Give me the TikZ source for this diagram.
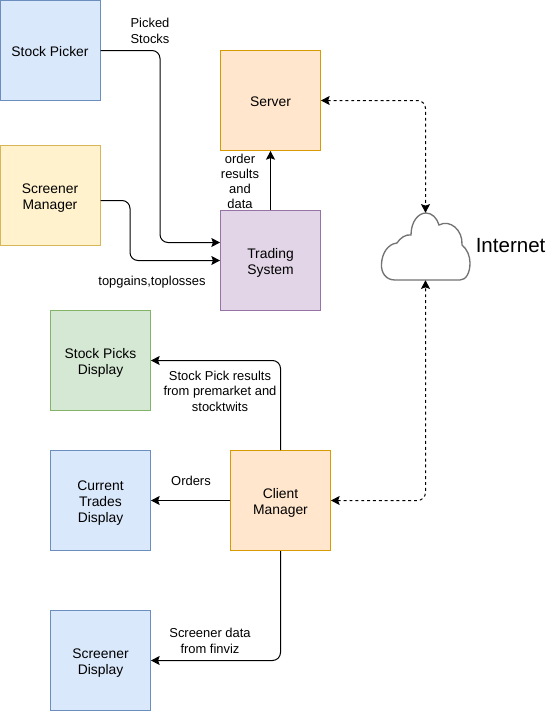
\documentclass[tikz,border=0pt]{standalone}
\usepackage{fontspec}
\setmainfont{Liberation Sans}
\usetikzlibrary{arrows.meta,positioning}
\definecolor{bluef}{HTML}{DAE8FC}\definecolor{blued}{HTML}{6C8EBF}
\definecolor{yelf}{HTML}{FFF2CC}\definecolor{yeld}{HTML}{D6B656}
\definecolor{orf}{HTML}{FFE6CC}\definecolor{ord}{HTML}{D79B00}
\definecolor{purf}{HTML}{E1D5E7}\definecolor{purd}{HTML}{9673A6}
\definecolor{grf}{HTML}{D5E8D4}\definecolor{grd}{HTML}{82B366}
\newcommand\boxtxt[1]{\raisebox{-2.1pt}[\height][\depth]{\begin{tabular}{@{}c@{}}#1\end{tabular}}}
\tikzset{
  x=0.75pt,y=-0.75pt,
  every node/.style={font=\fontsize{9.7}{12}\selectfont},
  boxbase/.style={draw,line width=0.75pt,minimum width=75pt,minimum height=75pt,inner sep=0pt,align=center,anchor=center,font=\fontsize{10.4}{12.2}\selectfont},
  bluebox/.style={boxbase,fill=bluef,draw=blued},
  yelbox/.style={boxbase,fill=yelf,draw=yeld},
  orbox/.style={boxbase,fill=orf,draw=ord},
  purbox/.style={boxbase,fill=purf,draw=purd},
  grbox/.style={boxbase,fill=grf,draw=grd},
  conn/.style={draw=black,line width=0.75pt,rounded corners=6pt,-{Stealth[length=6.5pt,width=6.8pt,inset=1.2pt]}},
  dconn/.style={draw=black,line width=0.75pt,dash pattern=on 2.2pt off 2.2pt,rounded corners=6pt,{Stealth[length=6.5pt,width=6.8pt,inset=1.2pt]}-{Stealth[length=6.5pt,width=6.8pt,inset=1.2pt]}},
  lab/.style={align=center,inner sep=0pt},
}
\begin{document}
\begin{tikzpicture}
\useasboundingbox (0,0) rectangle (547,711);
\node[bluebox] (picker) at (50,50.5) {\boxtxt{Stock Picker}};
\node[yelbox] (screener) at (50,195.5) {\boxtxt{Screener\\Manager}};
\node[orbox] (server) at (270.5,100.5) {\boxtxt{Server}};
\node[purbox] (trading) at (270.5,260.5) {\boxtxt{Trading\\System}};
\node[grbox] (picks) at (100.5,360.5) {\boxtxt{Stock Picks\\Display}};
\node[bluebox] (trades) at (100.5,500.5) {\boxtxt{Current\\Trades\\Display}};
\node[orbox] (client) at (280.5,500.5) {\boxtxt{Client\\Manager}};
\node[bluebox] (sdisplay) at (100.5,660.5) {\boxtxt{Screener\\Display}};
% cloud
\draw[draw=black!55,line width=1pt,fill=white]
  (395,280) .. controls (386,280) and (381,273) .. (381.5,264)
  .. controls (382,253) and (388,244) .. (397,243)
  .. controls (400,238) and (406,234) .. (411,235)
  .. controls (411,222) and (418,213) .. (426,213)
  .. controls (432,213) and (437,218) .. (439,225)
  .. controls (450,219) and (463,230) .. (462,245)
  .. controls (467,249) and (470,256) .. (470,263)
  .. controls (470,273) and (466,280) .. (460,280) -- cycle;
\node[minimum width=66.75pt,minimum height=50.25pt,inner sep=0pt] (cloud) at (425.5,246.5) {};
\node[lab,anchor=west,font=\fontsize{15.4}{18}\selectfont] (inet) at (475.5,246) {Internet};
% connectors
\coordinate (tradeA) at ([yshift=13.5pt]trading.west);
\draw[conn] (picker.east) -- (picker.east -| 160,0) -- (160,0 |- tradeA) -- (tradeA);
\coordinate (scrOut) at ([yshift=-3.75pt]screener.east);
\draw[conn] (scrOut) -- (130,0 |- scrOut) -- (130,0 |- trading.west) -- (trading.west);
\draw[conn] (trading.north) -- (server.south);
\draw[dconn] (server.east) -- (cloud.north |- server.east) -- (cloud.north);
\draw[dconn] (client.east) -- (cloud.south |- client.east) -- (cloud.south);
\draw[conn] (client.north) -- (client.north |- picks.east) -- (picks.east);
\draw[conn] (client.west) -- (trades.east);
\draw[conn] (client.south) -- (client.south |- sdisplay.east) -- (sdisplay.east);
% labels
\node[lab] (l1) at (150,31) {Picked\\Stocks};
\node[lab,font=\fontsize{9.7}{11.25}\selectfont] (l2) at (240,181) {order\\results\\and\\data};
\node[lab] (l3) at (152,282) {topgains,toplosses};
\node[lab,font=\fontsize{9.7}{11.6}\selectfont] (l4) at (220,391) {Stock Pick results\\from premarket and\\stocktwits};
\node[lab] (l5) at (191,481) {Orders};
\node[lab] (l6) at (210,641) {Screener data\\from finviz};
\end{tikzpicture}
\end{document}
